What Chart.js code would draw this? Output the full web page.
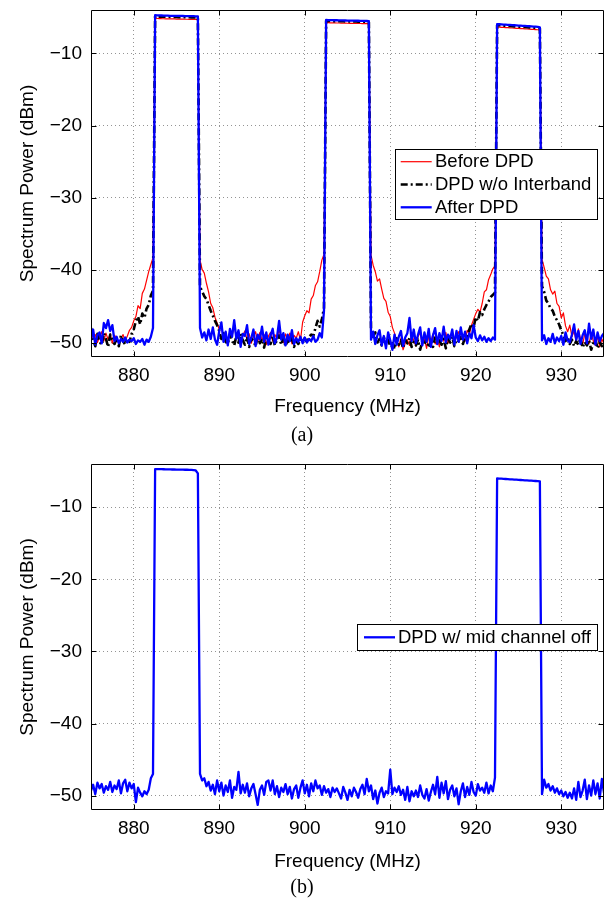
<!DOCTYPE html>
<html><head><meta charset="utf-8">
<script src="https://cdn.jsdelivr.net/npm/chart.js@4.4.1/dist/chart.umd.min.js"></script>
<style>
html,body{margin:0;padding:0;background:#fff;}
#wrap{position:relative;width:610px;height:902px;overflow:hidden;background:#fff;}
canvas{position:absolute;left:0;}
</style></head><body>
<div id="wrap">
<canvas id="ca" width="610" height="450" style="top:0px;width:610px;height:450px"></canvas>
<canvas id="cb" width="610" height="448" style="top:454px;width:610px;height:448px"></canvas>
</div>
<script>
// ---------- data ----------
const freqStart = 875, freqStep = 0.25;          // sampling grid (MHz)
const xTicks = [880, 890, 900, 910, 920, 930];
const yTicks = [-50, -40, -30, -20, -10];
const xRange = [875, 935];
const yRange = [-52, -4];
const namesA = ['Before DPD', 'DPD w/o Interband', 'After DPD'];
const nameB = 'DPD w/ mid channel off';
const xTitle = 'Frequency (MHz)';
const yTitle = 'Spectrum Power (dBm)';
const captionA = '(a)', captionB = '(b)';

const beforeDPD = [
 -48.6,-49.4,-48.9,-50.0, -49.2,-48.5,-49.8,-48.7, -49.6,-48.8,-50.1,-49.0, -49.3,-50.2,-49.5,-48.9,
 -49.8,-49.1,-48.3,-47.9, -47.0,-46.4,-44.9,-45.3, -43.2,-42.6,-41.4,-40.2,
 -39.2,-38.3,
 -5.15,-5.17,-5.18,-5.20,-5.21,-5.22,-5.22,-5.23,-5.24,-5.24,-5.25,-5.26,-5.26,-5.27,-5.28,-5.28,-5.29,-5.30,-5.30,-5.31,-5.35,
 -38.6,
 -39.9,-40.4,-41.8,-43.0, -44.6,-45.2,-46.5,-47.3, -48.2,-47.8,-49.4,-48.6, -49.9,-48.3,-49.1,-47.6,
 -49.3,-48.7,-50.2,-49.0, -48.4,-49.6,-48.8,-50.1, -49.2,-48.5,-49.9,-48.6, -49.7,-48.9,-50.3,-49.1,
 -48.6,-49.8,-48.9,-49.5, -48.2,-49.4,-50.0,-48.8, -49.6,-48.7,-50.2,-49.0, -49.4,-48.5,-49.7,-47.2,
 -46.3,-45.6,-45.9,-44.0, -43.5,-42.1,-41.6,-40.2,
 -38.6,-37.8,
 -5.75,-5.76,-5.77,-5.78,-5.79,-5.80,-5.80,-5.81,-5.82,-5.82,-5.83,-5.84,-5.84,-5.85,-5.86,-5.86,-5.87,-5.88,-5.88,-5.89,-5.92,
 -37.9,
 -39.3,-40.2,-41.5,-41.2, -42.6,-43.9,-44.3,-45.8, -46.4,-47.9,-48.7,-49.8, -50.6,-49.4,-51.0,-50.1,
 -49.6,-50.4,-48.9,-49.7, -50.5,-49.2,-48.6,-50.3, -49.5,-50.8,-49.1,-49.9, -48.8,-50.2,-49.4,-50.6,
 -49.0,-49.8,-48.6,-50.1, -49.3,-48.7,-50.0,-49.2, -48.5,-49.6,-48.9,-49.8, -48.3,-48.9,-47.6,-46.8,
 -46.0,-45.4,-45.8,-44.6, -43.0,-42.7,-41.3,-40.6,
 -39.8,-39.4,
 -6.35,-6.37,-6.39,-6.41,-6.43,-6.45,-6.47,-6.49,-6.51,-6.53,-6.55,-6.57,-6.59,-6.61,-6.63,-6.65,-6.67,-6.69,-6.71,-6.73,-6.78,
 -38.5,
 -39.6,-40.8,-41.2,-42.7, -43.3,-42.9,-44.6,-45.0, -46.6,-45.9,-47.7,-48.5, -47.6,-49.2,-48.4,-49.9,
 -48.1,-49.5,-50.3,-48.8, -49.6,-50.2,-48.7,-49.8, -50.4,-49.1,-50.6,-49.5,
 -50.2
];

const dpdNoInterband = [
 -48.0,-49.6,-50.5,-48.8, -49.9,-50.3,-48.7,-49.5, -50.6,-48.9,-49.7,-50.2, -49.4,-50.5,-49.0,-49.8,
 -50.3,-49.5,-49.9,-48.8, -48.2,-47.0,-46.4,-47.5, -46.0,-46.6,-45.3,-44.8,
 -43.5,-42.8,
 -4.88,-4.90,-4.91,-4.92,-4.93,-4.94,-4.94,-4.95,-4.96,-4.96,-4.97,-4.98,-4.98,-4.99,-5.00,-5.00,-5.01,-5.02,-5.02,-5.03,-5.06,
 -42.3,
 -42.9,-43.6,-44.0,-44.8, -45.6,-46.3,-47.0,-47.6, -48.4,-49.5,-48.7,-49.9, -50.2,-48.9,-49.6,-50.4,
 -49.1,-50.0,-48.8,-49.7, -50.3,-49.2,-50.6,-49.4, -49.8,-50.5,-49.0,-50.1, -49.5,-50.7,-49.3,-49.9,
 -50.2,-49.1,-50.4,-49.6, -49.0,-50.3,-49.4,-50.5, -49.7,-50.1,-49.2,-50.6, -49.8,-50.2,-49.5,-49.9,
 -49.4,-50.0,-49.2,-48.9, -49.1,-48.0,-47.0,-47.8,
 -46.8,-45.2,
 -5.50,-5.51,-5.52,-5.53,-5.54,-5.54,-5.55,-5.56,-5.56,-5.57,-5.58,-5.58,-5.59,-5.60,-5.60,-5.61,-5.62,-5.62,-5.63,-5.64,-5.67,
 -48.2,
 -49.2,-48.6,-50.0,-49.5, -50.4,-49.3,-50.2,-49.6, -50.5,-49.8,-50.9,-49.4, -50.3,-49.7,-50.8,-49.6,
 -50.1,-49.4,-50.6,-49.9, -50.4,-49.6,-51.0,-49.8, -50.2,-49.5,-50.7,-49.9, -50.6,-49.3,-50.1,-49.7,
 -50.3,-49.5,-50.8,-49.4, -50.0,-49.2,-50.5,-49.6, -49.8,-49.0,-50.2,-49.3, -49.1,-48.2,-47.4,-47.9,
 -46.5,-47.0,-45.8,-46.2, -45.4,-44.8,-44.3,-43.7,
 -43.4,-43.1,
 -6.10,-6.12,-6.14,-6.16,-6.18,-6.20,-6.22,-6.24,-6.26,-6.28,-6.30,-6.32,-6.34,-6.36,-6.38,-6.40,-6.42,-6.44,-6.46,-6.48,-6.52,
 -42.2,
 -43.0,-44.2,-44.6,-45.3, -45.6,-46.4,-46.9,-47.5, -48.3,-49.0,-49.8,-49.3, -50.2,-49.6,-50.5,-49.8,
 -50.3,-49.4,-50.7,-49.9, -50.4,-49.7,-51.0,-50.1, -49.6,-50.8,-49.9,-50.5,
 -50.3
];

const afterDPD = [
 -49.6,-48.2,-50.3,-49.0, -48.6,-50.1,-47.3,-48.0, -46.9,-48.4,-47.6,-49.8, -49.2,-50.1,-49.5,-49.9,
 -49.3,-50.0,-49.6,-49.8, -49.4,-50.2,-49.7,-49.9, -49.5,-50.3,-49.6,-49.9,
 -49.2,-48.0,
 -4.72,-4.74,-4.75,-4.76,-4.77,-4.78,-4.79,-4.80,-4.80,-4.80,-4.81,-4.82,-4.82,-4.83,-4.84,-4.84,-4.85,-4.86,-4.86,-4.87,-4.90,
 -48.0,
 -49.3,-48.6,-49.7,-48.2, -49.5,-47.9,-49.6,-50.3, -48.4,-47.2,-49.9,-48.5, -50.4,-48.1,-49.2,-46.9,
 -49.5,-48.3,-50.6,-48.8, -49.1,-47.6,-50.2,-49.4, -48.2,-50.5,-48.9,-49.6, -47.8,-49.9,-48.6,-50.3,
 -49.0,-48.1,-50.1,-49.3, -47.0,-49.6,-48.7,-50.4, -48.9,-49.8,-48.3,-50.2, -49.4,-49.9,-49.2,-50.1,
 -49.3,-50.0,-49.5,-49.8, -49.1,-49.9,-49.6,-48.7,
 -49.3,-45.6,
 -5.38,-5.39,-5.40,-5.41,-5.42,-5.42,-5.43,-5.44,-5.44,-5.45,-5.46,-5.46,-5.47,-5.48,-5.48,-5.49,-5.50,-5.50,-5.51,-5.52,-5.55,
 -49.6,
 -48.5,-50.2,-49.0,-48.3, -50.4,-49.1,-50.8,-48.6, -49.7,-51.0,-48.9,-50.3, -49.2,-48.4,-50.5,-49.3,
 -48.7,-46.6,-49.8,-48.2, -50.1,-48.9,-47.9,-50.4, -48.6,-49.9,-48.1,-50.6, -49.0,-48.0,-50.2,-48.7,
 -49.8,-47.8,-50.0,-48.9, -49.5,-48.2,-50.3,-48.4, -49.9,-47.9,-49.6,-48.5, -50.1,-48.7,-49.4,-47.6,
 -49.3,-49.8,-49.0,-49.7, -49.2,-49.9,-49.4,-49.8,
 -49.3,-49.6,
 -5.95,-5.97,-5.99,-6.01,-6.03,-6.05,-6.07,-6.09,-6.11,-6.13,-6.15,-6.17,-6.19,-6.21,-6.23,-6.25,-6.27,-6.29,-6.31,-6.33,-6.40,
 -49.7,
 -49.0,-50.2,-49.4,-49.9, -48.8,-50.1,-49.3,-49.8, -49.1,-50.3,-48.6,-49.7, -50.0,-48.9,-47.5,-49.6,
 -48.4,-50.2,-49.0,-48.3, -50.1,-47.4,-49.5,-48.2, -50.3,-48.6,-49.8,-49.1,
 -48.7
];

const midChannelOff = [
 -49.3,-48.5,-49.8,-48.2, -49.0,-48.4,-49.6,-48.7, -49.2,-48.1,-49.5,-48.6, -49.1,-47.9,-49.7,-48.3,
 -47.8,-49.4,-48.2,-49.0, -48.4,-50.9,-48.9,-49.6, -50.1,-49.4,-49.8,-49.2,
 -47.6,-47.0,
 -4.70,-4.71,-4.72,-4.72,-4.73,-4.74,-4.74,-4.75,-4.76,-4.76,-4.77,-4.78,-4.78,-4.79,-4.80,-4.80,-4.81,-4.82,-4.84,-4.90,-5.30,
 -47.0,
 -47.9,-47.6,-48.7,-48.1, -49.3,-48.5,-49.8,-47.9, -49.4,-48.2,-50.0,-48.6, -49.5,-47.9,-50.3,-48.8,
 -49.2,-46.7,-49.7,-48.5, -49.6,-48.3,-50.1,-49.0, -48.4,-49.8,-51.3,-49.2, -48.6,-49.9,-48.1,-47.9,
 -49.3,-47.9,-49.8,-48.7, -50.2,-48.9,-49.5,-48.4, -49.8,-48.8,-50.4,-49.1, -48.6,-50.3,-48.9,-47.9,
 -49.7,-48.5,-50.1,-48.3, -49.4,-47.9,-49.0,-48.6, -49.9,-48.7,-49.6,-49.1, -50.2,-48.9,-49.5,-49.0,
 -49.7,-50.4,-48.8,-49.6, -50.6,-49.2,-50.1,-48.9, -49.5,-50.3,-49.1,-48.5, -49.8,-47.7,-49.4,-48.6,
 -50.5,-49.3,-51.1,-49.6, -48.9,-50.2,-49.4,-49.7, -46.4,-49.8,-48.9,-49.5, -48.7,-49.9,-49.2,-50.6,
 -48.8,-50.8,-49.4,-50.1, -49.3,-50.2,-48.6,-49.9, -50.4,-49.1,-50.7,-49.5, -48.5,-49.8,-47.4,-50.3,
 -48.2,-49.7,-48.0,-50.5, -49.2,-48.6,-50.1,-49.0, -51.2,-49.4,-48.3,-50.2, -48.8,-49.9,-48.1,-49.5,
 -50.0,-48.4,-49.3,-48.9, -49.6,-48.2,-49.7,-48.6,
 -49.4,-47.5,
 -6.00,-6.02,-6.04,-6.06,-6.08,-6.10,-6.12,-6.14,-6.16,-6.18,-6.20,-6.22,-6.24,-6.26,-6.28,-6.30,-6.32,-6.34,-6.36,-6.38,-6.42,
 -49.8,
 -47.8,-48.9,-48.4,-49.3, -48.7,-49.6,-49.0,-49.8, -49.3,-50.1,-49.5,-50.3, -49.6,-50.4,-49.0,-50.6,
 -48.1,-50.2,-49.3,-47.8, -50.5,-48.6,-50.0,-47.9, -49.8,-48.3,-50.4,-47.7,
 -49.6
];

// ---------- helpers ----------
const FONT = '"Liberation Sans", Arial, Helvetica, sans-serif';
Chart.defaults.font.family = FONT;
Chart.defaults.color = '#000';

function toPoints(arr) {
  return arr.map((v, i) => ({ x: freqStart + i * freqStep, y: v }));
}
function fmtNum(v) { return String(v).replace('-', '\u2212'); }

// frame box with inward ticks (MATLAB-style axes box)
const framePlugin = {
  id: 'frameBox',
  afterDatasetsDraw(chart) {
    const { ctx, chartArea: a } = chart;
    const xs = chart.scales.x, ys = chart.scales.y;
    const L = Math.round(a.left) + 0.5, R = Math.round(a.right) - 0.5;
    const T = Math.round(a.top) + 0.5, B = Math.round(a.bottom) - 0.5;
    const tl = 5;
    ctx.save();
    ctx.strokeStyle = '#000';
    ctx.lineWidth = 1;
    ctx.setLineDash([]);
    ctx.beginPath();
    ctx.rect(L, T, R - L, B - T);
    xs.ticks.forEach(t => {
      const px = Math.round(xs.getPixelForValue(t.value)) + 0.5;
      ctx.moveTo(px, T); ctx.lineTo(px, T + tl);
      ctx.moveTo(px, B); ctx.lineTo(px, B - tl);
    });
    ys.ticks.forEach(t => {
      const py = Math.round(ys.getPixelForValue(t.value)) + 0.5;
      ctx.moveTo(L, py); ctx.lineTo(L + tl, py);
      ctx.moveTo(R, py); ctx.lineTo(R - tl, py);
    });
    ctx.stroke();
    ctx.restore();
  }
};

// boxed legend placed inside the axes
const boxLegendPlugin = {
  id: 'boxLegend',
  afterDraw(chart, args, o) {
    if (!o || !o.entries) return;
    const ctx = chart.ctx;
    ctx.save();
    ctx.fillStyle = '#fff';
    ctx.fillRect(o.left, o.top, o.right - o.left, o.bottom - o.top);
    ctx.strokeStyle = '#000';
    ctx.lineWidth = 1;
    ctx.setLineDash([]);
    ctx.strokeRect(o.left + 0.5, o.top + 0.5, o.right - o.left - 1, o.bottom - o.top - 1);
    ctx.font = o.fontSize + 'px ' + FONT;
    ctx.textBaseline = 'middle';
    ctx.textAlign = 'left';
    o.entries.forEach((idx, k) => {
      const ds = chart.data.datasets[idx];
      const y = o.top + o.firstRow + k * o.rowGap;
      ctx.strokeStyle = ds.borderColor;
      ctx.lineWidth = ds.borderWidth;
      ctx.setLineDash(ds.borderDash || []);
      ctx.beginPath();
      ctx.moveTo(o.left + o.sample0, y);
      ctx.lineTo(o.left + o.sample1, y);
      ctx.stroke();
      ctx.setLineDash([]);
      ctx.fillStyle = '#000';
      ctx.fillText(ds.label, o.left + o.textX, y + 0.5);
    });
    ctx.restore();
  }
};

function makeOptions(cfg) {
  return {
    responsive: false,
    animation: false,
    devicePixelRatio: 1,
    layout: { padding: { top: 10, right: 6, left: 0, bottom: 0 } },
    plugins: {
      legend: { display: false },
      tooltip: { enabled: false },
      title: {
        display: true, position: 'bottom', text: cfg.caption, color: '#000',
        font: { family: '"Liberation Serif", "Times New Roman", serif', size: 20, weight: 'normal' },
        padding: { top: 0, bottom: 2 }
      },
      boxLegend: cfg.legend
    },
    scales: {
      x: {
        type: 'linear', min: xRange[0], max: xRange[1],
        afterBuildTicks: s => { s.ticks = xTicks.map(v => ({ value: v })); },
        afterFit: s => { s.height = cfg.xAxisHeight; s.paddingLeft = 0; s.paddingRight = 0; s.paddingTop = 0; s.paddingBottom = 0; },
        ticks: { font: { size: 19 }, color: '#000', padding: 7, maxRotation: 0, autoSkip: false, callback: v => fmtNum(v) },
        grid: { color: 'rgba(0,0,0,0.42)', lineWidth: 1, drawTicks: false },
        border: { display: false, dash: [1, 3] },
        title: { display: true, text: xTitle, color: '#000', font: { size: 19 }, padding: { top: 0, bottom: cfg.xTitlePad } }
      },
      y: {
        type: 'linear', min: yRange[0], max: yRange[1],
        afterBuildTicks: s => { s.ticks = yTicks.map(v => ({ value: v })); },
        afterFit: s => { s.width = 91; s.paddingTop = 0; s.paddingBottom = 0; s.paddingLeft = 0; s.paddingRight = 0; },
        ticks: { font: { size: 19 }, color: '#000', padding: 9, autoSkip: false, callback: v => fmtNum(v) },
        grid: { color: 'rgba(0,0,0,0.42)', lineWidth: 1, drawTicks: false },
        border: { display: false, dash: [1, 3] },
        title: { display: true, text: yTitle, color: '#000', font: { size: 19 }, padding: { top: 16.5, bottom: 0 } }
      }
    }
  };
}

const lineBase = { pointRadius: 0, pointHoverRadius: 0, tension: 0, fill: false, borderJoinStyle: 'round', borderCapStyle: 'butt' };

new Chart(document.getElementById('ca'), {
  type: 'line',
  data: {
    datasets: [
      Object.assign({}, lineBase, { label: namesA[0], data: toPoints(beforeDPD), borderColor: '#ff0000', borderWidth: 1.2, order: 3 }),
      Object.assign({}, lineBase, { label: namesA[1], data: toPoints(dpdNoInterband), borderColor: '#000000', borderWidth: 2.6, borderDash: [7, 3, 2, 3], order: 2 }),
      Object.assign({}, lineBase, { label: namesA[2], data: toPoints(afterDPD), borderColor: '#0000ff', borderWidth: 2.3, order: 1 })
    ]
  },
  options: makeOptions({
    caption: captionA, xAxisHeight: 67, xTitlePad: 5.6,
    legend: { left: 395, top: 149, right: 598, bottom: 220, firstRow: 12.7, rowGap: 22.8,
              sample0: 5.7, sample1: 36.7, textX: 40, fontSize: 18.5, entries: [0, 1, 2] }
  }),
  plugins: [framePlugin, boxLegendPlugin]
});

new Chart(document.getElementById('cb'), {
  type: 'line',
  data: {
    datasets: [
      Object.assign({}, lineBase, { label: nameB, data: toPoints(midChannelOff), borderColor: '#0000ff', borderWidth: 2.3, order: 1 })
    ]
  },
  options: makeOptions({
    caption: captionB, xAxisHeight: 66, xTitlePad: 2.6,
    legend: { left: 357, top: 170, right: 598, bottom: 197, firstRow: 13.3, rowGap: 22.8,
              sample0: 7, sample1: 38, textX: 41, fontSize: 18.5, entries: [0] }
  }),
  plugins: [framePlugin, boxLegendPlugin]
});
</script>
</body></html>
